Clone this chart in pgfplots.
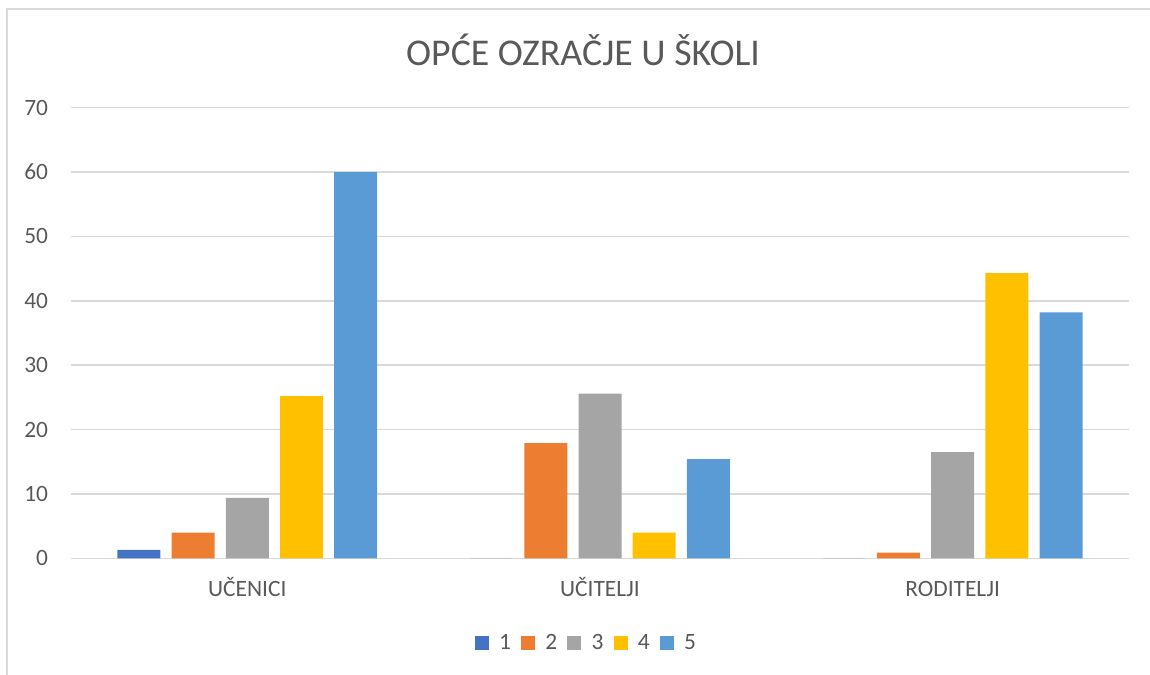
\documentclass[border=0pt]{standalone}
\usepackage{fontspec}
\setmainfont{Carlito}
\usepackage{pgfplots}
\pgfplotsset{compat=1.18}
\definecolor{SerA}{HTML}{4472C4}
\definecolor{SerB}{HTML}{ED7D31}
\definecolor{SerC}{HTML}{A5A5A5}
\definecolor{SerD}{HTML}{FFC000}
\definecolor{SerE}{HTML}{5B9BD5}
\definecolor{GridGray}{HTML}{D9D9D9}
\definecolor{TextGray}{HTML}{595959}
\begin{document}
\begin{tikzpicture}
\useasboundingbox (-35.5pt,-57.85pt) rectangle (539.5pt,279.15pt);
\draw[GridGray, line width=1pt] (-32pt,-60pt) -- (-32pt,274.4pt) -- (545pt,274.4pt);
\begin{axis}[
    scale only axis,
    width=529pt, height=225.3pt,
    ybar=5.6pt, bar width=21.5pt,
    xmin=-0.5, xmax=2.5,
    ymin=0, ymax=70,
    ytick={0,10,...,70},
    xtick=data,
    xticklabels={UČENICI,UČITELJI,RODITELJI},
    axis x line*=bottom, axis y line*=left,
    x axis line style={GridGray, line width=0.75pt},
    y axis line style={draw=none},
    ymajorgrids=true, major grid style={GridGray, line width=0.75pt},
    major tick length=0pt,
    tick style={draw=none},
    ticklabel style={font=\fontsize{11.7}{13}\selectfont, color=TextGray},
    /pgf/number format/assume math mode=true,
    yticklabel style={anchor=east, inner sep=0pt, xshift=-11.3pt},
    xticklabel style={anchor=base, inner sep=0pt, yshift=-19pt},
    title={OPĆE OZRAČJE U ŠKOLI},
    title style={at={(0.484,1.0675)}, anchor=base, inner sep=0pt,
                 font=\fontsize{18.9}{22}\selectfont, color=TextGray},
    legend columns=-1,
    legend style={at={(0.4877,-0.1886)}, anchor=center, draw=none,
                  font=\fontsize{11.7}{13}\selectfont, text=TextGray,
                  nodes={inner xsep=1.5pt}, column sep=3.6pt},
    legend image code/.code={\fill[#1] (0pt,-3.5pt) rectangle (7pt,3.5pt);},
    every axis plot/.append style={draw=none},
]
\addplot[fill=SerA] coordinates {(0,1.3) (1,0) (2,0)};
\addplot[fill=SerB] coordinates {(0,4.0) (1,17.9) (2,0.9)};
\addplot[fill=SerC] coordinates {(0,9.4) (1,25.6) (2,16.5)};
\addplot[fill=SerD] coordinates {(0,25.2) (1,4.0) (2,44.3)};
\addplot[fill=SerE] coordinates {(0,60.0) (1,15.4) (2,38.2)};
\legend{1,2,3,4,5}
\end{axis}
\end{tikzpicture}
\end{document}
